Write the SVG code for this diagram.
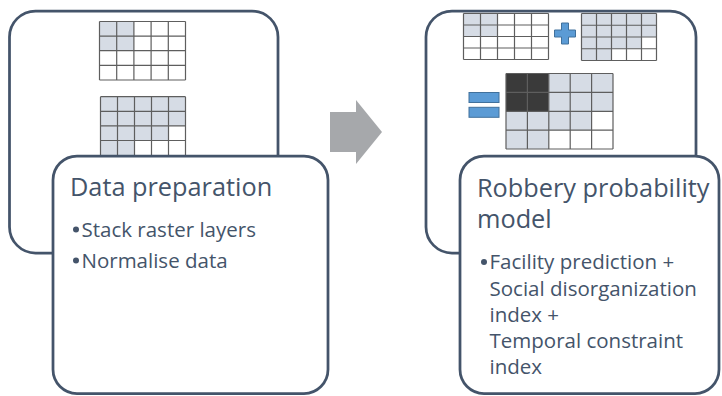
<svg xmlns="http://www.w3.org/2000/svg" width="722" height="396" viewBox="0 0 722 396">
  <style>
    .box { fill: #FFFFFF; stroke: #44546A; stroke-width: 2.75; }
    .cell { fill: #D6DCE5; }
    .dark { fill: #3A3A3A; }
    .grid { fill: none; stroke: #5E5E5E; stroke-width: 1.2; }
    .sign { fill: #5B9BD5; stroke: #41719C; stroke-width: 1; }
    .title { font-family: "Open Sans", "DejaVu Sans", sans-serif; font-size: 25.3px; fill: #44546A; }
    .body { font-family: "Open Sans", "DejaVu Sans", sans-serif; font-size: 20.5px; fill: #44546A; }
    .dot { fill: #44546A; }
  </style>

  <!-- Back panel: input raster layers -->
  <g id="layers-panel">
    <rect class="box" x="9.5" y="11" width="268.5" height="242" rx="26"/>
    <!-- first layer -->
    <g id="layer-a">
      <rect class="cell" x="99.5" y="21.5" width="34.4" height="29.2"/>
      <path class="grid" d="M99.5 21.5V80M116.7 21.5V80M133.9 21.5V80M151.1 21.5V80M168.3 21.5V80M185.5 21.5V80M99.5 21.5H185.5M99.5 36.1H185.5M99.5 50.7H185.5M99.5 65.3H185.5M99.5 80H185.5"/>
    </g>
    <!-- second layer -->
    <g id="layer-b">
      <rect class="cell" x="100.5" y="96.7" width="85" height="29.2"/>
      <rect class="cell" x="100.5" y="125.9" width="68" height="14.6"/>
      <rect class="cell" x="100.5" y="140.5" width="34" height="15"/>
      <path class="grid" d="M100.5 96.7V156M117.5 96.7V156M134.5 96.7V156M151.5 96.7V156M168.5 96.7V156M185.5 96.7V156M100.5 96.7H185.5M100.5 111.3H185.5M100.5 125.9H185.5M100.5 140.5H185.5"/>
    </g>
  </g>

  <!-- Front panel: data preparation -->
  <g id="data-preparation">
    <rect class="box" x="53" y="156" width="275" height="237.5" rx="24"/>
    <text class="title" x="70" y="196">Data preparation</text>
    <circle class="dot" cx="76" cy="229.5" r="3"/>
    <text class="body" x="81.5" y="236.7">Stack raster layers</text>
    <circle class="dot" cx="76" cy="260.5" r="3"/>
    <text class="body" x="81.5" y="267.7">Normalise data</text>
  </g>

  <!-- Back panel: combined layers -->
  <g id="combination-panel">
    <rect class="box" x="426" y="11" width="270" height="242" rx="26"/>
    <g id="layer-c">
      <rect class="cell" x="463.5" y="13.5" width="34" height="23"/>
      <path class="grid" d="M463.5 13.5V59.5M480.5 13.5V59.5M497.5 13.5V59.5M514.5 13.5V59.5M531.5 13.5V59.5M548.5 13.5V59.5M463.5 13.5H548.5M463.5 25H548.5M463.5 36.5H548.5M463.5 48H548.5M463.5 59.5H548.5"/>
    </g>
    <path class="sign" d="M561.5 23H568.5V30H575.5V37H568.5V44H561.5V37H554.5V30H561.5Z"/>
    <g id="layer-d">
      <rect class="cell" x="581.5" y="13.5" width="75" height="23.5"/>
      <rect class="cell" x="581.5" y="37" width="60" height="11.75"/>
      <rect class="cell" x="581.5" y="48.75" width="30" height="11.75"/>
      <path class="grid" d="M581.5 13.5V60.5M596.5 13.5V60.5M611.5 13.5V60.5M626.5 13.5V60.5M641.5 13.5V60.5M656.5 13.5V60.5M581.5 13.5H656.5M581.5 25.25H656.5M581.5 37H656.5M581.5 48.75H656.5M581.5 60.5H656.5"/>
    </g>
    <rect class="sign" x="469" y="92.5" width="30" height="10"/>
    <rect class="sign" x="469" y="107.3" width="30" height="10"/>
    <g id="layer-sum">
      <rect class="dark" x="506" y="73.5" width="42.8" height="37.8"/>
      <rect class="cell" x="548.8" y="73.5" width="64.2" height="37.8"/>
      <rect class="cell" x="506" y="111.3" width="85.6" height="18.8"/>
      <rect class="cell" x="506" y="130.1" width="42.8" height="18.9"/>
      <path class="grid" d="M506 73.5V149M527.4 73.5V149M548.8 73.5V149M570.2 73.5V149M591.6 73.5V149M613 73.5V149M506 73.5H613M506 92.4H613M506 111.3H613M506 130.1H613M506 149H613"/>
    </g>
  </g>

  <!-- Front panel: robbery probability model -->
  <g id="robbery-model">
    <rect class="box" x="460" y="156" width="259" height="237.5" rx="24"/>
    <text class="title" x="477" y="196.7">Robbery probability</text>
    <text class="title" x="477" y="228.3">model</text>
    <circle class="dot" cx="484" cy="262" r="3"/>
    <text class="body"><tspan x="489.5" y="269.3">Facility prediction +</tspan><tspan x="489.5" y="295.5">Social disorganization</tspan><tspan x="489.5" y="321.7">index +</tspan><tspan x="489.5" y="347.9">Temporal constraint</tspan><tspan x="489.5" y="374">index</tspan></text>
  </g>

  <!-- Flow between the two stages -->
  <g id="connectors">
    <polygon points="330,112 356,112 356,100 382,132 356,164 356,152 330,152" fill="#A6A8AB"/>
  </g>
</svg>
